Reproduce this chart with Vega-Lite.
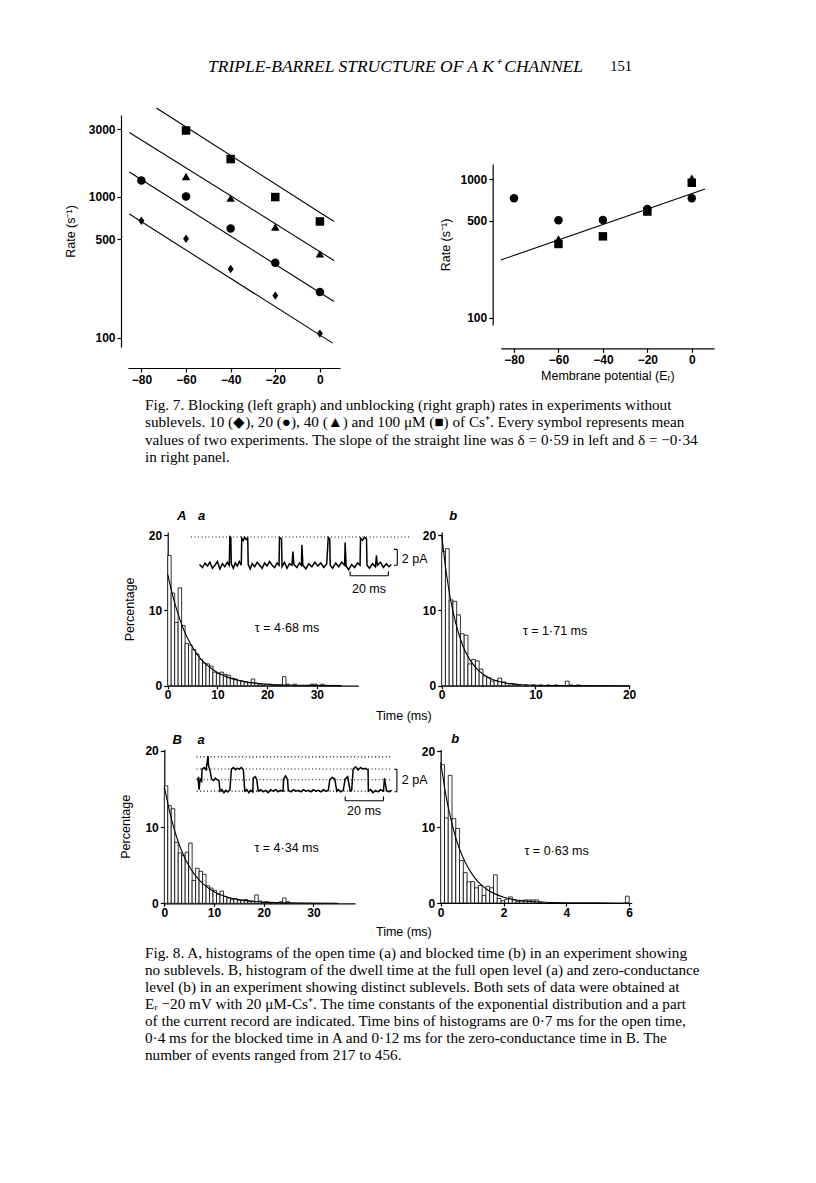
{
"$schema": "https://vega.github.io/schema/vega-lite/v6.json",
"width": 816,
"height": 1183,
"autosize": {"type": "none"},
"padding": 0,
"background": "white",
"config": {
 "view": {"stroke": null},
 "font": "Liberation Sans",
 "axis": {"grid": false, "domainColor": "black", "tickColor": "black", "labelColor": "black", "titleColor": "black", "labelFont": "Liberation Sans", "titleFont": "Liberation Sans", "labelFontSize": 12, "labelFontWeight": "bold", "titleFontSize": 12.5, "titleFontWeight": "normal", "tickSize": 4, "labelPadding": 2, "domainWidth": 1.2, "tickWidth": 1.2, "labelFlush": false, "labelOverlap": false, "labelBound": false},
 "text": {"color": "black"}
},
"resolve": {"scale": {"x": "independent", "y": "independent"}},
"datasets": {
 "header": [{"line": 1, "label": "TRIPLE-BARREL STRUCTURE OF A K⁺ CHANNEL", "pg": "151"}],
 "cap7": [
  {"line": 1, "text": "Fig. 7. Blocking (left graph) and unblocking (right graph) rates in experiments without"},
  {"line": 2, "text": "sublevels. 10 (◆), 20 (●), 40 (▲) and 100 μM (■) of Cs⁺. Every symbol represents mean"},
  {"line": 3, "text": "values of two experiments. The slope of the straight line was δ = 0·59 in left and δ = −0·34"},
  {"line": 4, "text": "in right panel."}
 ],
 "cap8": [
  {"line": 1, "text": "Fig. 8. A, histograms of the open time (a) and blocked time (b) in an experiment showing"},
  {"line": 2, "text": "no sublevels. B, histogram of the dwell time at the full open level (a) and zero-conductance"},
  {"line": 3, "text": "level (b) in an experiment showing distinct sublevels. Both sets of data were obtained at"},
  {"line": 4, "text": "Eᵣ −20 mV with 20 μM-Cs⁺. The time constants of the exponential distribution and a part"},
  {"line": 5, "text": "of the current record are indicated. Time bins of histograms are 0·7 ms for the open time,"},
  {"line": 6, "text": "0·4 ms for the blocked time in A and 0·12 ms for the zero-conductance time in B. The"},
  {"line": 7, "text": "number of events ranged from 217 to 456."}
 ],
 "f7L_pts": [
  {"conc": "10", "V": -80, "rate": 676}, {"conc": "10", "V": -60, "rate": 503}, {"conc": "10", "V": -40, "rate": 307}, {"conc": "10", "V": -20, "rate": 199}, {"conc": "10", "V": 0, "rate": 107},
  {"conc": "20", "V": -80, "rate": 1305}, {"conc": "20", "V": -60, "rate": 1005}, {"conc": "20", "V": -40, "rate": 596}, {"conc": "20", "V": -20, "rate": 340}, {"conc": "20", "V": 0, "rate": 211},
  {"conc": "40", "V": -60, "rate": 1393}, {"conc": "40", "V": -40, "rate": 979}, {"conc": "40", "V": -20, "rate": 610}, {"conc": "40", "V": 0, "rate": 393},
  {"conc": "100", "V": -60, "rate": 2950}, {"conc": "100", "V": -40, "rate": 1850}, {"conc": "100", "V": -20, "rate": 995}, {"conc": "100", "V": 0, "rate": 668}
 ],
 "f7L_lines": [
  {"conc": "10", "V": -85.4, "rate": 754}, {"conc": "10", "V": 5.7, "rate": 91.6},
  {"conc": "20", "V": -85.4, "rate": 1497}, {"conc": "20", "V": 6.3, "rate": 181},
  {"conc": "40", "V": -85.4, "rate": 2858}, {"conc": "40", "V": 6.3, "rate": 353},
  {"conc": "100", "V": -73.3, "rate": 4255}, {"conc": "100", "V": 6.3, "rate": 668}
 ],
 "f7R_pts": [
  {"conc": "20", "V": -80, "rate": 729}, {"conc": "20", "V": -60, "rate": 506}, {"conc": "20", "V": -40, "rate": 508}, {"conc": "20", "V": -20, "rate": 610}, {"conc": "20", "V": 0, "rate": 729},
  {"conc": "40", "V": -60, "rate": 371}, {"conc": "40", "V": 0, "rate": 1020},
  {"conc": "100", "V": -60, "rate": 341}, {"conc": "100", "V": -40, "rate": 387}, {"conc": "100", "V": -20, "rate": 585}, {"conc": "100", "V": 0, "rate": 945}
 ],
 "f7R_line": [{"V": -86, "rate": 261}, {"V": 6, "rate": 851}],
 "Aa_bars": [
  {"t":0,"t1":0.7,"v":17.3},{"t":0.7,"t1":1.4,"v":12.3},{"t":1.4,"t1":2.1,"v":8.4},{"t":2.1,"t1":2.8,"v":13.0},{"t":2.8,"t1":3.5,"v":8.0},
  {"t":3.5,"t1":4.2,"v":5.6},{"t":4.2,"t1":4.9,"v":5.4},{"t":4.9,"t1":5.6,"v":4.8},{"t":5.6,"t1":6.3,"v":4.2},{"t":6.3,"t1":7.0,"v":3.5},
  {"t":7.0,"t1":7.7,"v":3.0},{"t":7.7,"t1":8.4,"v":2.9},{"t":8.4,"t1":9.1,"v":2.6},{"t":9.1,"t1":9.8,"v":1.8},{"t":9.8,"t1":10.5,"v":1.6},
  {"t":10.5,"t1":11.2,"v":1.8},{"t":11.2,"t1":11.9,"v":1.5},{"t":11.9,"t1":12.6,"v":1.4},{"t":12.6,"t1":13.3,"v":1.0},{"t":13.3,"t1":14.0,"v":0.9},
  {"t":14.0,"t1":14.7,"v":0.7},{"t":14.7,"t1":15.4,"v":0.6},{"t":15.4,"t1":16.1,"v":0.5},{"t":16.1,"t1":16.8,"v":0.4},{"t":16.8,"t1":17.5,"v":0.9},
  {"t":17.5,"t1":18.2,"v":0.3},{"t":18.2,"t1":18.9,"v":0.2},{"t":18.9,"t1":19.6,"v":0.1},{"t":19.6,"t1":20.3,"v":0.2},{"t":20.3,"t1":21.0,"v":0.2},
  {"t":21.0,"t1":21.7,"v":0.1},{"t":21.7,"t1":22.4,"v":0.1},{"t":22.4,"t1":23.1,"v":0.1},{"t":23.1,"t1":23.8,"v":1.2},{"t":23.8,"t1":24.5,"v":0.2},
  {"t":25.2,"t1":25.9,"v":0.2},{"t":28.7,"t1":29.4,"v":0.2},{"t":29.4,"t1":30.1,"v":0.2},{"t":30.8,"t1":31.5,"v":0.2}
 ],
 "Aa_fit": [
  {"t":0,"v":14.8},{"t":1,"v":12.0},{"t":2,"v":9.7},{"t":3,"v":7.8},{"t":4,"v":6.3},{"t":5,"v":5.1},{"t":6,"v":4.1},{"t":7,"v":3.3},{"t":8,"v":2.7},
  {"t":10,"v":1.75},{"t":12,"v":1.14},{"t":14,"v":0.74},{"t":16,"v":0.48},{"t":18,"v":0.32},{"t":20,"v":0.2},{"t":24,"v":0.09},{"t":28,"v":0.04},{"t":35,"v":0.01}
 ],
 "Aa_trace": [
  {"t":6.4,"v":16.1},{"t":7.0,"v":15.7},{"t":7.5,"v":16.3},{"t":8.0,"v":15.9},{"t":8.5,"v":16.4},{"t":9.0,"v":15.6},{"t":9.5,"v":16.0},{"t":10.0,"v":16.5},
  {"t":10.5,"v":15.5},{"t":11.0,"v":16.2},{"t":11.5,"v":15.8},{"t":12.0,"v":16.4},{"t":12.4,"v":16.0},{"t":12.5,"v":19.8},{"t":12.7,"v":19.7},{"t":12.8,"v":16.2},
  {"t":13.2,"v":15.6},{"t":13.6,"v":16.3},{"t":14.0,"v":15.9},{"t":14.4,"v":16.5},{"t":14.8,"v":16.0},{"t":14.9,"v":19.6},{"t":15.2,"v":19.3},{"t":15.5,"v":19.7},
  {"t":15.8,"v":19.4},{"t":16.1,"v":19.6},{"t":16.2,"v":16.1},{"t":16.6,"v":15.5},{"t":17.0,"v":16.2},{"t":17.5,"v":15.8},{"t":18.0,"v":16.4},{"t":18.5,"v":16.0},
  {"t":19.0,"v":15.6},{"t":19.5,"v":16.3},{"t":20.0,"v":15.9},{"t":20.5,"v":16.5},{"t":21.0,"v":16.0},{"t":21.5,"v":15.7},{"t":22.0,"v":16.3},{"t":22.4,"v":16.0},
  {"t":22.5,"v":19.7},{"t":22.9,"v":19.5},{"t":23.0,"v":15.8},{"t":23.5,"v":16.4},{"t":24.0,"v":15.6},{"t":24.5,"v":16.2},{"t":25.0,"v":16.0},{"t":25.2,"v":17.8},
  {"t":25.4,"v":16.1},{"t":26.0,"v":15.7},{"t":26.5,"v":16.3},{"t":26.9,"v":16.0},{"t":27.0,"v":18.7},{"t":27.2,"v":16.0},{"t":27.8,"v":15.5},{"t":28.4,"v":16.2},
  {"t":29.0,"v":15.8},{"t":29.6,"v":16.4},{"t":30.2,"v":15.9},{"t":30.8,"v":16.3},{"t":31.4,"v":15.7},{"t":32.0,"v":16.2},{"t":32.3,"v":19.7},{"t":32.6,"v":19.5},
  {"t":32.7,"v":16.0},{"t":33.2,"v":15.6},{"t":33.8,"v":16.3},{"t":34.4,"v":15.8},{"t":35.0,"v":16.4},{"t":35.6,"v":16.0},{"t":35.7,"v":19.0},{"t":35.9,"v":15.9},
  {"t":36.4,"v":15.4},{"t":37.0,"v":16.1},{"t":37.6,"v":15.7},{"t":38.2,"v":16.3},{"t":38.7,"v":16.0},{"t":38.8,"v":19.6},{"t":39.2,"v":19.3},{"t":39.6,"v":19.7},
  {"t":40.0,"v":19.5},{"t":40.1,"v":16.0},{"t":40.6,"v":15.6},{"t":41.2,"v":16.2},{"t":41.8,"v":15.8},{"t":42.0,"v":17.3},{"t":42.2,"v":16.0},{"t":42.8,"v":16.4},
  {"t":43.4,"v":15.7},{"t":44.0,"v":16.2},{"t":44.5,"v":15.8},{"t":45.0,"v":16.1}
 ],
 "Aa_rules": [
  {"kind":"dot","t":4.7,"t2":48.8,"v":19.75,"v2":19.75},
  {"kind":"solid","t":45.5,"t2":46.2,"v":18.1,"v2":18.1},
  {"kind":"solid","t":46.2,"t2":46.2,"v":18.1,"v2":16.0},
  {"kind":"solid","t":45.5,"t2":46.2,"v":16.0,"v2":16.0},
  {"kind":"solid","t":36.7,"t2":44.4,"v":14.6,"v2":14.6},
  {"kind":"solid","t":36.7,"t2":36.7,"v":14.6,"v2":15.2},
  {"kind":"solid","t":44.4,"t2":44.4,"v":14.6,"v2":15.2}
 ],
 "Aa_text": [
  {"kind":"letter","t":2.8,"v":22.5,"label":"A"},
  {"kind":"letter","t":6.8,"v":22.5,"label":"a"},
  {"kind":"center","t":24.0,"v":7.6,"label":"τ = 4·68 ms"},
  {"kind":"center","t":40.5,"v":12.9,"label":"20 ms"},
  {"kind":"center","t":47.5,"v":-4.0,"label":"Time (ms)"},
  {"kind":"left","t":47.1,"v":16.8,"label":"2 pA"}
 ],
 "Ab_bars": [
  {"t":0,"t1":0.4,"v":17.8},{"t":0.4,"t1":0.8,"v":18.2},{"t":0.8,"t1":1.2,"v":11.4},{"t":1.2,"t1":1.6,"v":11.2},{"t":1.6,"t1":2.0,"v":9.4},
  {"t":2.0,"t1":2.4,"v":6.9},{"t":2.4,"t1":2.8,"v":6.7},{"t":2.8,"t1":3.2,"v":2.9},{"t":3.2,"t1":3.6,"v":3.5},{"t":3.6,"t1":4.0,"v":3.3},
  {"t":4.0,"t1":4.4,"v":2.2},{"t":4.4,"t1":4.8,"v":1.3},{"t":4.8,"t1":5.2,"v":1.1},{"t":5.2,"t1":5.6,"v":0.6},{"t":5.6,"t1":6.0,"v":0.7},
  {"t":6.0,"t1":6.4,"v":1.0},{"t":6.4,"t1":6.8,"v":0.5},{"t":6.8,"t1":7.2,"v":0.3},{"t":7.2,"t1":7.6,"v":0.3},{"t":7.6,"t1":8.0,"v":0.2},
  {"t":8.0,"t1":8.4,"v":0.1},{"t":8.8,"t1":9.2,"v":0.1},{"t":9.6,"t1":10.0,"v":0.1},{"t":10.4,"t1":10.8,"v":0.1},{"t":11.2,"t1":11.6,"v":0.1},
  {"t":12.0,"t1":12.4,"v":0.1},{"t":13.2,"t1":13.6,"v":0.6},{"t":13.6,"t1":14.0,"v":0.1},{"t":14.4,"t1":14.8,"v":0.1}
 ],
 "Ab_fit": [
  {"t":0,"v":20},{"t":0.5,"v":14.9},{"t":1,"v":11.1},{"t":1.5,"v":8.3},{"t":2,"v":6.2},{"t":2.5,"v":4.6},{"t":3,"v":3.46},{"t":3.5,"v":2.6},
  {"t":4,"v":1.93},{"t":5,"v":1.07},{"t":6,"v":0.6},{"t":7,"v":0.33},{"t":8,"v":0.19},{"t":10,"v":0.06},{"t":14,"v":0.01},{"t":20,"v":0}
 ],
 "Ab_text": [
  {"kind":"letter","t":1.24,"v":22.5,"label":"b"},
  {"kind":"center","t":12.1,"v":7.2,"label":"τ = 1·71 ms"}
 ],
 "Ba_bars": [
  {"t":0,"t1":0.7,"v":15.4},{"t":0.7,"t1":1.4,"v":12.8},{"t":1.4,"t1":2.1,"v":12.4},{"t":2.1,"t1":2.8,"v":8.0},{"t":2.8,"t1":3.5,"v":6.6},
  {"t":3.5,"t1":4.2,"v":6.3},{"t":4.2,"t1":4.9,"v":6.7},{"t":4.9,"t1":5.6,"v":7.9},{"t":5.6,"t1":6.3,"v":3.0},{"t":6.3,"t1":7.0,"v":4.6},
  {"t":7.0,"t1":7.7,"v":4.2},{"t":7.7,"t1":8.4,"v":3.8},{"t":8.4,"t1":9.1,"v":2.3},{"t":9.1,"t1":9.8,"v":2.0},{"t":9.8,"t1":10.5,"v":1.7},
  {"t":10.5,"t1":11.2,"v":1.2},{"t":11.2,"t1":11.9,"v":1.6},{"t":11.9,"t1":12.6,"v":0.9},{"t":12.6,"t1":13.3,"v":0.7},{"t":13.3,"t1":14.0,"v":0.5},
  {"t":14.0,"t1":14.7,"v":0.6},{"t":14.7,"t1":15.4,"v":0.4},{"t":15.4,"t1":16.1,"v":0.4},{"t":16.1,"t1":16.8,"v":0.5},{"t":16.8,"t1":17.5,"v":0.3},
  {"t":17.5,"t1":18.2,"v":0.3},{"t":18.2,"t1":18.9,"v":1.1},{"t":18.9,"t1":19.6,"v":0.3},{"t":19.6,"t1":20.3,"v":0.1},{"t":20.3,"t1":21.0,"v":0.2},
  {"t":21.0,"t1":21.7,"v":0.1},{"t":22.4,"t1":23.1,"v":0.1},{"t":23.1,"t1":23.8,"v":0.2},{"t":23.8,"t1":24.5,"v":0.7},{"t":24.5,"t1":25.2,"v":0.2}
 ],
 "Ba_fit": [
  {"t":0,"v":15.3},{"t":1,"v":12.2},{"t":2,"v":9.7},{"t":3,"v":7.7},{"t":4,"v":6.1},{"t":5,"v":4.85},{"t":6,"v":3.86},{"t":7,"v":3.07},{"t":8,"v":2.44},
  {"t":10,"v":1.52},{"t":12,"v":0.96},{"t":14,"v":0.6},{"t":16,"v":0.38},{"t":18,"v":0.24},{"t":20,"v":0.15},{"t":25,"v":0.05},{"t":35,"v":0.01}
 ],
 "Ba_trace": [
  {"t":6.6,"v":16.2},{"t":6.8,"v":16.4},{"t":7.0,"v":14.9},{"t":7.2,"v":16.3},{"t":7.5,"v":16.0},{"t":7.6,"v":17.6},{"t":8.0,"v":17.8},{"t":8.4,"v":17.5},
  {"t":8.8,"v":19.3},{"t":8.9,"v":18.0},{"t":9.2,"v":17.4},{"t":9.5,"v":16.3},{"t":9.9,"v":16.1},{"t":10.3,"v":16.4},{"t":10.6,"v":16.2},{"t":11.0,"v":16.1},
  {"t":11.2,"v":14.7},{"t":11.6,"v":14.9},{"t":12.0,"v":14.5},{"t":12.4,"v":14.8},{"t":12.8,"v":14.6},{"t":13.2,"v":14.9},{"t":13.5,"v":17.6},{"t":13.9,"v":17.8},
  {"t":14.3,"v":17.5},{"t":14.7,"v":17.7},{"t":15.1,"v":17.6},{"t":15.5,"v":17.8},{"t":15.9,"v":17.5},{"t":16.2,"v":14.7},{"t":16.6,"v":14.9},{"t":17.0,"v":14.5},
  {"t":17.4,"v":14.8},{"t":17.8,"v":14.6},{"t":17.9,"v":16.4},{"t":18.3,"v":16.6},{"t":18.6,"v":16.2},{"t":18.9,"v":14.7},{"t":19.4,"v":14.9},{"t":19.9,"v":14.6},
  {"t":20.4,"v":14.8},{"t":20.9,"v":14.5},{"t":21.4,"v":14.9},{"t":21.9,"v":14.7},{"t":22.4,"v":14.9},{"t":22.9,"v":14.6},{"t":23.4,"v":14.8},{"t":23.9,"v":14.7},
  {"t":24.0,"v":16.3},{"t":24.4,"v":16.7},{"t":24.8,"v":16.2},{"t":24.95,"v":14.8},{"t":25.5,"v":14.6},{"t":26.0,"v":14.9},{"t":26.5,"v":14.7},{"t":27.0,"v":14.8},
  {"t":27.5,"v":14.6},{"t":28.0,"v":14.9},{"t":28.5,"v":14.7},{"t":29.0,"v":14.8},{"t":29.5,"v":14.6},{"t":30.0,"v":14.9},{"t":30.5,"v":14.7},{"t":31.0,"v":14.8},
  {"t":31.5,"v":14.6},{"t":32.0,"v":14.9},{"t":32.5,"v":14.7},{"t":33.0,"v":14.8},{"t":33.3,"v":16.2},{"t":33.8,"v":16.5},{"t":34.3,"v":16.3},{"t":34.7,"v":14.7},
  {"t":35.0,"v":14.9},{"t":35.5,"v":14.6},{"t":36.0,"v":14.8},{"t":36.4,"v":16.3},{"t":36.9,"v":16.6},{"t":37.4,"v":14.7},{"t":37.7,"v":14.8},{"t":38.0,"v":17.6},
  {"t":38.5,"v":17.9},{"t":39.0,"v":17.5},{"t":39.5,"v":17.8},{"t":40.0,"v":17.6},{"t":40.5,"v":17.7},{"t":41.0,"v":17.5},{"t":41.05,"v":14.7},{"t":41.5,"v":14.9},
  {"t":42.0,"v":14.5},{"t":42.5,"v":14.8},{"t":43.0,"v":14.6},{"t":43.5,"v":14.9},{"t":44.1,"v":14.7},{"t":44.3,"v":16.4},{"t":44.7,"v":14.8},{"t":45.2,"v":14.6},
  {"t":45.75,"v":14.8}
 ],
 "Ba_rules": [
  {"kind":"dot","t":6.5,"t2":45.8,"v":19.2,"v2":19.2},
  {"kind":"dot","t":6.5,"t2":45.8,"v":17.6,"v2":17.6},
  {"kind":"dot","t":6.5,"t2":45.8,"v":16.2,"v2":16.2},
  {"kind":"dot","t":6.5,"t2":45.8,"v":14.7,"v2":14.7},
  {"kind":"solid","t":46.3,"t2":46.8,"v":17.56,"v2":17.56},
  {"kind":"solid","t":46.8,"t2":46.8,"v":17.56,"v2":14.63},
  {"kind":"solid","t":46.3,"t2":46.8,"v":14.63,"v2":14.63},
  {"kind":"solid","t":36.4,"t2":44.1,"v":13.45,"v2":13.45},
  {"kind":"solid","t":36.4,"t2":36.4,"v":13.45,"v2":14.0},
  {"kind":"solid","t":44.1,"t2":44.1,"v":13.45,"v2":14.0}
 ],
 "Ba_text": [
  {"kind":"letter","t":2.6,"v":21.4,"label":"B"},
  {"kind":"letter","t":7.4,"v":21.4,"label":"a"},
  {"kind":"center","t":24.6,"v":7.2,"label":"τ = 4·34 ms"},
  {"kind":"center","t":40.2,"v":12.1,"label":"20 ms"},
  {"kind":"center","t":48.2,"v":-3.76,"label":"Time (ms)"},
  {"kind":"left","t":47.8,"v":16.1,"label":"2 pA"}
 ],
 "Bb_bars": [
  {"t":0,"t1":0.12,"v":18.2},{"t":0.12,"t1":0.24,"v":11.2},{"t":0.24,"t1":0.36,"v":16.8},{"t":0.36,"t1":0.48,"v":11.1},{"t":0.48,"t1":0.6,"v":9.8},
  {"t":0.6,"t1":0.72,"v":5.6},{"t":0.72,"t1":0.84,"v":4.0},{"t":0.84,"t1":0.96,"v":2.8},{"t":0.96,"t1":1.08,"v":2.8},{"t":1.08,"t1":1.2,"v":2.0},
  {"t":1.2,"t1":1.32,"v":2.3},{"t":1.32,"t1":1.44,"v":1.0},{"t":1.44,"t1":1.56,"v":2.2},{"t":1.56,"t1":1.68,"v":2.0},{"t":1.68,"t1":1.8,"v":3.7},
  {"t":1.8,"t1":1.92,"v":0.6},{"t":1.92,"t1":2.04,"v":0.3},{"t":2.04,"t1":2.16,"v":0.5},{"t":2.16,"t1":2.28,"v":0.8},{"t":2.28,"t1":2.4,"v":0.4},
  {"t":2.4,"t1":2.52,"v":0.2},{"t":2.52,"t1":2.64,"v":0.3},{"t":2.64,"t1":2.76,"v":0.4},{"t":2.76,"t1":2.88,"v":0.4},{"t":2.88,"t1":3.0,"v":0.4},
  {"t":3.0,"t1":3.12,"v":0.4},{"t":3.12,"t1":3.24,"v":0.1},{"t":5.88,"t1":6.0,"v":0.9}
 ],
 "Bb_fit": [
  {"t":0,"v":18.5},{"t":0.1,"v":15.8},{"t":0.2,"v":13.4},{"t":0.3,"v":11.5},{"t":0.4,"v":9.8},{"t":0.5,"v":8.3},{"t":0.6,"v":7.1},{"t":0.8,"v":5.2},
  {"t":1.0,"v":3.8},{"t":1.2,"v":2.75},{"t":1.5,"v":1.71},{"t":2,"v":0.77},{"t":2.5,"v":0.35},{"t":3,"v":0.16},{"t":4,"v":0.03},{"t":5,"v":0.01},{"t":6,"v":0}
 ],
 "Bb_text": [
  {"kind":"letter","t":0.46,"v":21.6,"label":"b"},
  {"kind":"center","t":3.69,"v":6.9,"label":"τ = 0·63 ms"}
 ]
},
"layer": [
 {"data":{"name":"header"},
  "encoding":{"y":{"field":"line","type":"ordinal","axis":null,"scale":{"range":[57,77],"padding":0.5}}},
  "layer":[
   {"mark":{"type":"text","align":"left","baseline":"middle","font":"Liberation Serif","fontStyle":"italic","fontSize":17.5},
    "encoding":{"x":{"datum":0,"type":"quantitative","scale":{"domain":[0,1],"range":[208,632]},"axis":null},"text":{"field":"label"}}},
   {"mark":{"type":"text","align":"right","baseline":"middle","font":"Liberation Serif","fontSize":14.5},
    "encoding":{"x":{"datum":1,"type":"quantitative","scale":{"domain":[0,1],"range":[208,632]},"axis":null},"text":{"field":"pg"}}}
  ]},

 {"encoding":{
   "x":{"field":"V","type":"quantitative","scale":{"domain":[-86,9],"range":[128,340],"nice":false,"zero":false},"axis":{"orient":"bottom","offset":-815,"values":[-80,-60,-40,-20,0],"title":null}},
   "y":{"field":"rate","type":"quantitative","scale":{"type":"log","domain":[86,3800],"range":[347,115],"nice":false},"axis":{"orient":"left","offset":-121,"values":[100,500,1000,3000],"format":"d","title":"Rate (s⁻¹)","titlePadding":11}}},
  "layer":[
   {"data":{"name":"f7L_lines"},"mark":{"type":"line","color":"black","strokeWidth":1.1},"encoding":{"detail":{"field":"conc"}}},
   {"data":{"name":"f7L_pts"},"mark":{"type":"point","filled":true,"color":"black","opacity":1,"size":72},
    "encoding":{"shape":{"field":"conc","type":"nominal","scale":{"domain":["10","20","40","100"],"range":["M0,-1L0.7,0L0,1L-0.7,0Z","circle","triangle-up","square"]},"legend":null}}}
  ]},

 {"encoding":{
   "x":{"field":"V","type":"quantitative","scale":{"domain":[-86,10],"range":[500.7,714],"nice":false,"zero":false},"axis":{"orient":"bottom","offset":-834.7,"values":[-80,-60,-40,-20,0],"title":"Membrane potential (Eᵣ)","titlePadding":4}},
   "y":{"field":"rate","type":"quantitative","scale":{"type":"log","domain":[88.5,1290],"range":[325,164],"nice":false},"axis":{"orient":"left","offset":-492.7,"values":[100,500,1000],"format":"d","title":"Rate (s⁻¹)","titlePadding":8}}},
  "layer":[
   {"data":{"name":"f7R_line"},"mark":{"type":"line","color":"black","strokeWidth":1.1}},
   {"data":{"name":"f7R_pts"},"mark":{"type":"point","filled":true,"color":"black","opacity":1,"size":72},
    "encoding":{"shape":{"field":"conc","type":"nominal","scale":{"domain":["10","20","40","100"],"range":["M0,-1L0.7,0L0,1L-0.7,0Z","circle","triangle-up","square"]},"legend":null}}}
  ]},

 {"data":{"name":"cap7"},
  "mark":{"type":"text","align":"left","baseline":"middle","font":"Liberation Serif","fontSize":15.2},
  "encoding":{"x":{"datum":0,"type":"quantitative","scale":{"domain":[0,1],"range":[145,700]},"axis":null},
   "y":{"field":"line","type":"ordinal","axis":null,"scale":{"range":[396.3,465.6],"padding":0.5}},
   "text":{"field":"text"}}},

 {"encoding":{
   "x":{"field":"t","type":"quantitative","scale":{"domain":[0,38.35],"range":[167.7,358.3],"nice":false,"zero":false},"axis":{"orient":"bottom","offset":-497.3,"values":[0,10,20,30],"title":null,"tickSize":3,"labelPadding":1}},
   "y":{"field":"v","type":"quantitative","scale":{"domain":[0,20.4],"range":[685.7,532.1],"nice":false},"axis":{"orient":"left","offset":-167.7,"values":[0,10,20],"title":"Percentage","titlePadding":12}}},
  "layer":[
   {"data":{"name":"Aa_bars"},"mark":{"type":"rect","fill":"white","stroke":"black","strokeWidth":0.8},"encoding":{"x2":{"field":"t1"},"y2":{"datum":0}}},
   {"data":{"name":"Aa_fit"},"mark":{"type":"line","color":"black","strokeWidth":1.1,"interpolate":"monotone"}},
   {"data":{"name":"Aa_trace"},"mark":{"type":"line","color":"black","strokeWidth":1.5}},
   {"data":{"name":"Aa_rules"},"mark":{"type":"rule","color":"black","strokeWidth":1.1},
    "encoding":{"x2":{"field":"t2"},"y2":{"field":"v2"},"strokeDash":{"field":"kind","type":"nominal","scale":{"domain":["dot","solid"],"range":[[1,2.5],[1,0]]},"legend":null}}},
   {"data":{"name":"Aa_text"},"transform":[{"filter":"datum.kind == 'letter'"}],"mark":{"type":"text","fontStyle":"italic","fontWeight":"bold","fontSize":13,"align":"center","baseline":"middle"},"encoding":{"text":{"field":"label"}}},
   {"data":{"name":"Aa_text"},"transform":[{"filter":"datum.kind == 'center'"}],"mark":{"type":"text","fontSize":12.5,"align":"center","baseline":"middle"},"encoding":{"text":{"field":"label"}}},
   {"data":{"name":"Aa_text"},"transform":[{"filter":"datum.kind == 'left'"}],"mark":{"type":"text","fontSize":12.5,"align":"left","baseline":"middle"},"encoding":{"text":{"field":"label"}}}
  ]},

 {"encoding":{
   "x":{"field":"t","type":"quantitative","scale":{"domain":[0,20.1],"range":[441.7,630],"nice":false,"zero":false},"axis":{"orient":"bottom","offset":-497.3,"values":[0,10,20],"title":null,"tickSize":3,"labelPadding":1}},
   "y":{"field":"v","type":"quantitative","scale":{"domain":[0,20.4],"range":[685.7,532.1],"nice":false},"axis":{"orient":"left","offset":-441.7,"values":[0,10,20],"title":null}}},
  "layer":[
   {"data":{"name":"Ab_bars"},"mark":{"type":"rect","fill":"white","stroke":"black","strokeWidth":0.8},"encoding":{"x2":{"field":"t1"},"y2":{"datum":0}}},
   {"data":{"name":"Ab_fit"},"mark":{"type":"line","color":"black","strokeWidth":1.1,"interpolate":"monotone"}},
   {"data":{"name":"Ab_text"},"transform":[{"filter":"datum.kind == 'letter'"}],"mark":{"type":"text","fontStyle":"italic","fontWeight":"bold","fontSize":13,"align":"center","baseline":"middle"},"encoding":{"text":{"field":"label"}}},
   {"data":{"name":"Ab_text"},"transform":[{"filter":"datum.kind == 'center'"}],"mark":{"type":"text","fontSize":12.5,"align":"center","baseline":"middle"},"encoding":{"text":{"field":"label"}}}
  ]},

 {"encoding":{
   "x":{"field":"t","type":"quantitative","scale":{"domain":[0,38.37],"range":[164.3,355],"nice":false,"zero":false},"axis":{"orient":"bottom","offset":-279.7,"values":[0,10,20,30],"title":null,"tickSize":3,"labelPadding":1}},
   "y":{"field":"v","type":"quantitative","scale":{"domain":[0,20.2],"range":[903.3,749.2],"nice":false},"axis":{"orient":"left","offset":-164.3,"values":[0,10,20],"title":"Percentage","titlePadding":12}}},
  "layer":[
   {"data":{"name":"Ba_bars"},"mark":{"type":"rect","fill":"white","stroke":"black","strokeWidth":0.8},"encoding":{"x2":{"field":"t1"},"y2":{"datum":0}}},
   {"data":{"name":"Ba_fit"},"mark":{"type":"line","color":"black","strokeWidth":1.1,"interpolate":"monotone"}},
   {"data":{"name":"Ba_trace"},"mark":{"type":"line","color":"black","strokeWidth":1.5}},
   {"data":{"name":"Ba_rules"},"mark":{"type":"rule","color":"black","strokeWidth":1.1},
    "encoding":{"x2":{"field":"t2"},"y2":{"field":"v2"},"strokeDash":{"field":"kind","type":"nominal","scale":{"domain":["dot","solid"],"range":[[1,2.5],[1,0]]},"legend":null}}},
   {"data":{"name":"Ba_text"},"transform":[{"filter":"datum.kind == 'letter'"}],"mark":{"type":"text","fontStyle":"italic","fontWeight":"bold","fontSize":13,"align":"center","baseline":"middle"},"encoding":{"text":{"field":"label"}}},
   {"data":{"name":"Ba_text"},"transform":[{"filter":"datum.kind == 'center'"}],"mark":{"type":"text","fontSize":12.5,"align":"center","baseline":"middle"},"encoding":{"text":{"field":"label"}}},
   {"data":{"name":"Ba_text"},"transform":[{"filter":"datum.kind == 'left'"}],"mark":{"type":"text","fontSize":12.5,"align":"left","baseline":"middle"},"encoding":{"text":{"field":"label"}}}
  ]},

 {"encoding":{
   "x":{"field":"t","type":"quantitative","scale":{"domain":[0,6.08],"range":[440.7,631.7],"nice":false,"zero":false},"axis":{"orient":"bottom","offset":-280,"values":[0,2,4,6],"title":null,"tickSize":3,"labelPadding":1}},
   "y":{"field":"v","type":"quantitative","scale":{"domain":[0,20.2],"range":[903,749.5],"nice":false},"axis":{"orient":"left","offset":-440.7,"values":[0,10,20],"title":null}}},
  "layer":[
   {"data":{"name":"Bb_bars"},"mark":{"type":"rect","fill":"white","stroke":"black","strokeWidth":0.8},"encoding":{"x2":{"field":"t1"},"y2":{"datum":0}}},
   {"data":{"name":"Bb_fit"},"mark":{"type":"line","color":"black","strokeWidth":1.1,"interpolate":"monotone"}},
   {"data":{"name":"Bb_text"},"transform":[{"filter":"datum.kind == 'letter'"}],"mark":{"type":"text","fontStyle":"italic","fontWeight":"bold","fontSize":13,"align":"center","baseline":"middle"},"encoding":{"text":{"field":"label"}}},
   {"data":{"name":"Bb_text"},"transform":[{"filter":"datum.kind == 'center'"}],"mark":{"type":"text","fontSize":12.5,"align":"center","baseline":"middle"},"encoding":{"text":{"field":"label"}}}
  ]},

 {"data":{"name":"cap8"},
  "mark":{"type":"text","align":"left","baseline":"middle","font":"Liberation Serif","fontSize":15.2},
  "encoding":{"x":{"datum":0,"type":"quantitative","scale":{"domain":[0,1],"range":[145,705]},"axis":null},
   "y":{"field":"line","type":"ordinal","axis":null,"scale":{"range":[944.2,1063.6],"padding":0.5}},
   "text":{"field":"text"}}}
]
}
